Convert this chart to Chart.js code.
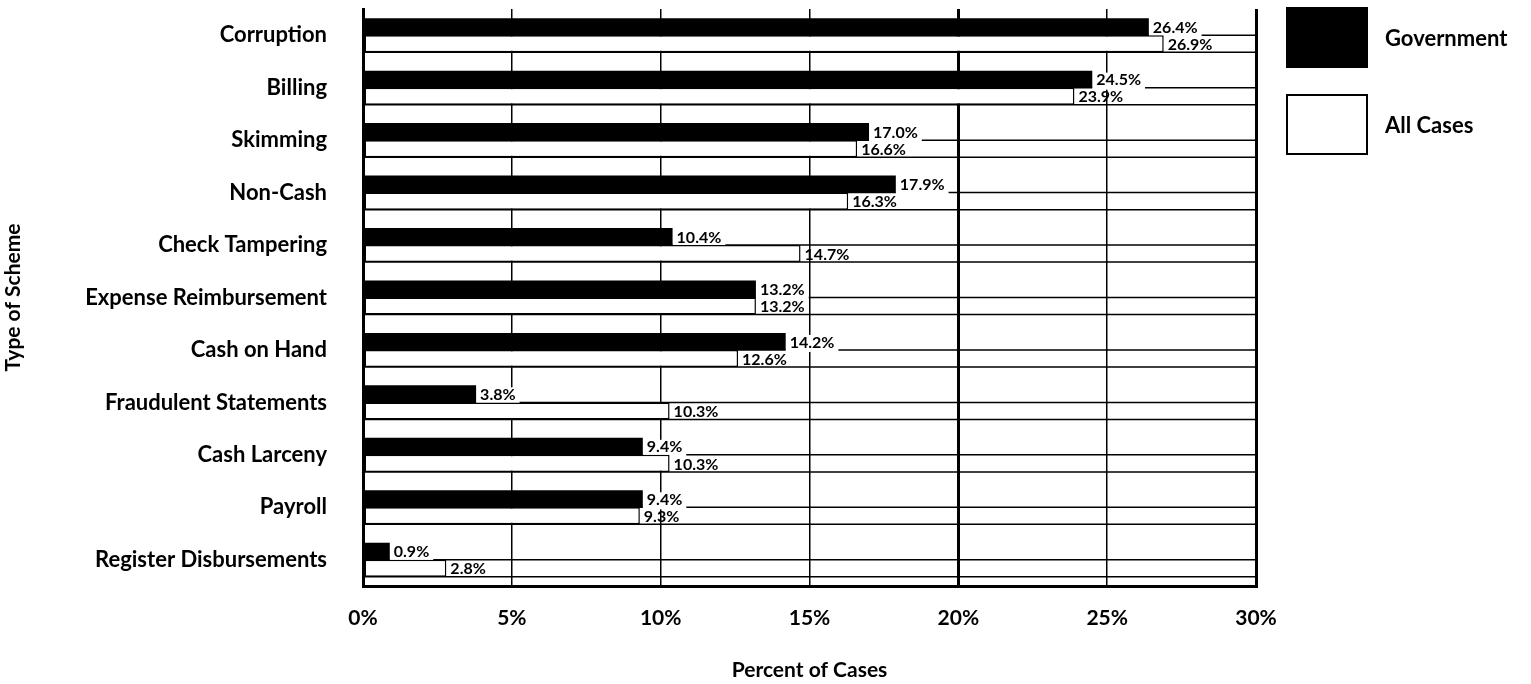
<!DOCTYPE html>
<html>
<head>
<meta charset="utf-8">
<script src="https://cdn.jsdelivr.net/npm/chart.js@4"></script>
<style>
  body { margin: 0; background: #fff; }
  #wrap { width: 1531px; height: 684px; }
</style>
</head>
<body>
<div id="wrap"><canvas id="chart" width="1531" height="684"></canvas></div>
<script>
const schemes = [
  "Corruption", "Billing", "Skimming", "Non-Cash", "Check Tampering",
  "Expense Reimbursement", "Cash on Hand", "Fraudulent Statements",
  "Cash Larceny", "Payroll", "Register Disbursements"
];
const government = [26.4, 24.5, 17.0, 17.9, 10.4, 13.2, 14.2, 3.8, 9.4, 9.4, 0.9];
const allCases = [26.9, 23.9, 16.6, 16.3, 14.7, 13.2, 12.6, 10.3, 10.3, 9.3, 2.8];
const xMin = 0;
const xMax = 30;
const xStep = 5;

Chart.defaults.font.family = "Lato";
Chart.defaults.font.weight = "bold";
Chart.defaults.color = "#000";

const labelFont = "bold 16px Lato";

// lines along the top and bottom edge of every white bar, full width
const rowLines = {
  id: "rowLines",
  beforeDatasetsDraw(chart) {
    const { ctx, chartArea } = chart;
    ctx.save();
    ctx.strokeStyle = "#000";
    ctx.lineWidth = 1.5;
    chart.getDatasetMeta(1).data.forEach(bar => {
      [bar.y - bar.height / 2, bar.y + bar.height / 2].forEach(y => {
        ctx.beginPath();
        ctx.moveTo(chartArea.left, y);
        ctx.lineTo(chartArea.right, y);
        ctx.stroke();
      });
    });
    // blank space behind the government labels
    ctx.font = labelFont;
    ctx.fillStyle = "#fff";
    chart.getDatasetMeta(0).data.forEach((bar, i) => {
      const w = ctx.measureText(government[i].toFixed(1) + "%").width;
      ctx.fillRect(bar.x, bar.y - bar.height / 2 + 2, w + 8, bar.height);
    });
    ctx.restore();
  }
};

const valueLabels = {
  id: "valueLabels",
  afterDatasetsDraw(chart) {
    const { ctx } = chart;
    ctx.save();
    ctx.font = labelFont;
    ctx.fillStyle = "#000";
    ctx.textBaseline = "middle";
    chart.data.datasets.forEach((ds, di) => {
      chart.getDatasetMeta(di).data.forEach((bar, i) => {
        ctx.fillText(ds.data[i].toFixed(1) + "%", bar.x + 4, bar.y + 1);
      });
    });
    ctx.restore();
  }
};

const boxLegend = {
  id: "boxLegend",
  afterDraw(chart) {
    const { ctx, chartArea } = chart;
    const x = chartArea.right + 31;
    ctx.save();
    chart.data.datasets.forEach((ds, i) => {
      const y = 8 + i * 87;
      ctx.fillStyle = ds.backgroundColor;
      ctx.fillRect(x, y, 80, 59);
      ctx.strokeStyle = "#000";
      ctx.lineWidth = 2;
      ctx.strokeRect(x, y, 80, 59);
      ctx.fillStyle = "#000";
      ctx.font = "bold 22px Lato";
      ctx.textBaseline = "middle";
      ctx.fillText(ds.label, x + 98, y + 31);
    });
    ctx.restore();
  }
};

new Chart(document.getElementById("chart"), {
  type: "bar",
  data: {
    labels: schemes,
    datasets: [{
      label: "Government",
      data: government,
      backgroundColor: "#000",
      borderWidth: 0
    }, {
      label: "All Cases",
      data: allCases,
      backgroundColor: "#fff",
      borderColor: "#000",
      borderWidth: 1.5,
      borderSkipped: false
    }]
  },
  options: {
    indexAxis: "y",
    responsive: false,
    animation: false,
    layout: { padding: { top: 9, right: 275, left: 0, bottom: 0 } },
    datasets: { bar: { categoryPercentage: 0.65, barPercentage: 1 } },
    plugins: {
      legend: { display: false },
      tooltip: { enabled: false }
    },
    scales: {
      x: {
        min: xMin,
        max: xMax,
        ticks: {
          stepSize: xStep,
          callback: v => v + "%",
          font: { size: 21, weight: "bold" },
          padding: 20
        },
        grid: {
          color: "#000",
          lineWidth: c => [0, 20, 30].includes(c.tick.value) ? 3 : 1.5,
          drawTicks: false
        },
        border: { display: true, color: "#000", width: 3 },
        title: {
          display: true,
          text: "Percent of Cases",
          font: { size: 21, weight: "bold" },
          padding: { top: 0, bottom: 1 }
        },
        afterFit(scale) {
          scale.height = 98;
          scale.paddingLeft = 0;
          scale.paddingRight = 0;
        }
      },
      y: {
        grid: { display: false },
        border: { display: true, color: "#000", width: 3 },
        ticks: {
          font: { size: 22, weight: "bold" },
          padding: 28
        },
        title: {
          display: true,
          text: "Type of Scheme",
          font: { size: 21, weight: "bold" },
          padding: { top: 1, bottom: 0 }
        },
        afterFit(scale) {
          scale.width = 363;
          scale.paddingTop = 0;
          scale.paddingBottom = 0;
        }
      }
    }
  },
  plugins: [rowLines, valueLabels, boxLegend]
});
</script>
</body>
</html>
